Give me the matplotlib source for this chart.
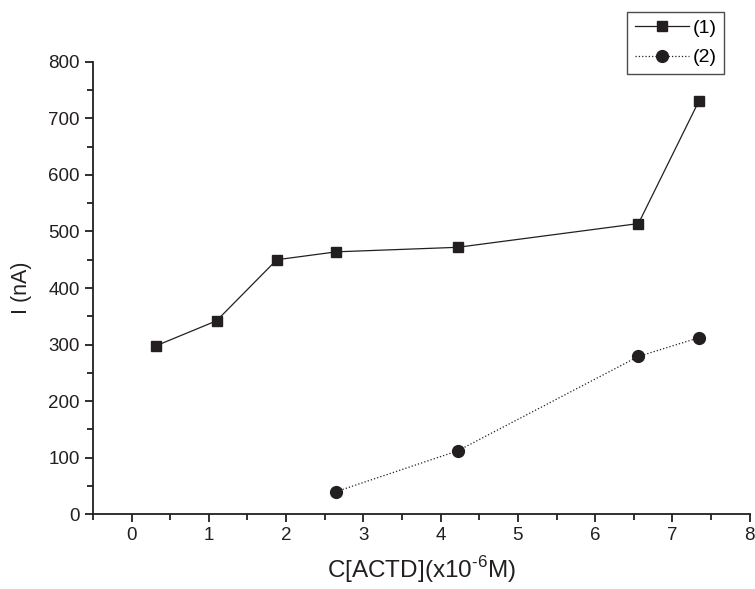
import numpy as np
import matplotlib.pyplot as plt
from matplotlib.ticker import MultipleLocator

plt.rcParams['font.family'] = ['Liberation Sans', 'DejaVu Sans']
plt.rcParams['mathtext.fontset'] = 'custom'
plt.rcParams['mathtext.rm'] = 'Liberation Sans'

# data
x1 = [0.32, 1.10, 1.88, 2.65, 4.22, 6.56, 7.34]
y1 = [298, 342, 450, 464, 472, 514, 730]
x2 = [2.65, 4.22, 6.56, 7.34]
y2 = [40, 112, 279, 312]
labels = ['(1)', '(2)']

col = '#231f20'

fig = plt.figure(figsize=(7.55, 5.89), dpi=100)
ax = fig.add_axes([0.123, 0.127, 0.870, 0.768])

ax.plot(x1, y1, '-', color=col, lw=0.9, marker='s', ms=7.5, label=labels[0])
ax.plot(x2, y2, ':', color=col, lw=0.9, marker='o', ms=8.5, label=labels[1])

ax.set_xlim(-0.5, 8)
ax.set_ylim(0, 800)
ax.xaxis.set_major_locator(MultipleLocator(1))
ax.xaxis.set_minor_locator(MultipleLocator(0.5))
ax.yaxis.set_major_locator(MultipleLocator(100))
ax.yaxis.set_minor_locator(MultipleLocator(50))

for s in ['top', 'right']:
    ax.spines[s].set_visible(False)
for s in ['left', 'bottom']:
    ax.spines[s].set_linewidth(1.3)
    ax.spines[s].set_color(col)

ax.tick_params(which='major', direction='out', length=6, width=1.3, labelsize=13.5, colors=col)
ax.tick_params(which='minor', direction='out', length=4, width=1.3, colors=col)

ax.set_xlabel(r'C[ACTD](x10$^{\text{-6}}$M)', fontsize=17.5, color=col, labelpad=7)
ax.set_ylabel('I (nA)', fontsize=15.5, color=col, labelpad=12)

leg = fig.legend(loc='upper right', bbox_to_anchor=(0.959, 0.98), fontsize=14,
                 frameon=True, fancybox=False, handlelength=2.8, handletextpad=0.15,
                 borderpad=0.4, labelspacing=0.6, borderaxespad=0)
leg.get_frame().set_edgecolor(col)
leg.get_frame().set_linewidth(1.0)

fig.savefig('out.png', dpi=100)
